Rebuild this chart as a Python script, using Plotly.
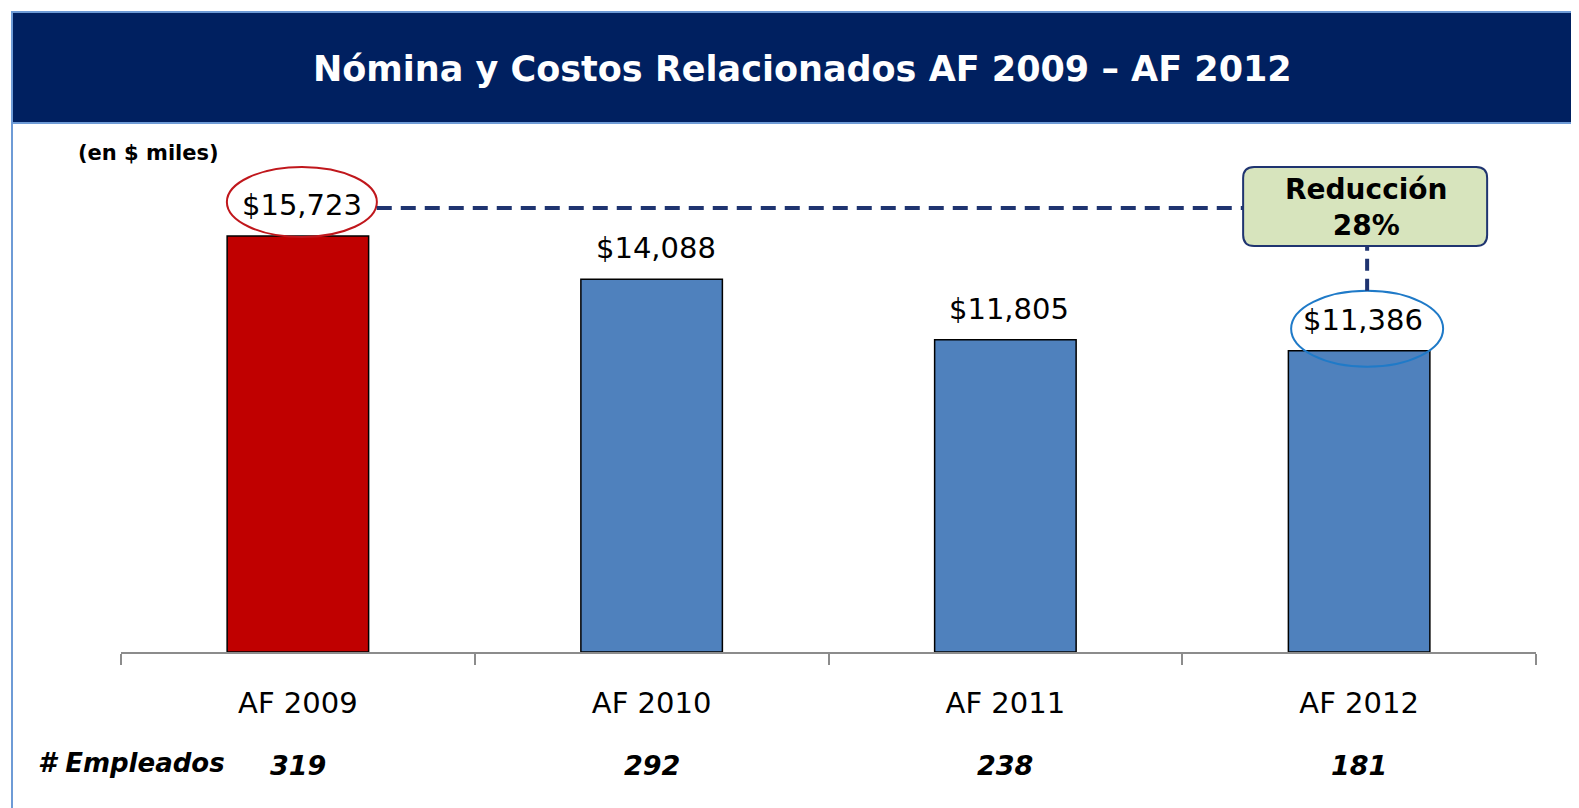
import plotly.graph_objects as go

# ---------------- data ----------------
categories = ["AF 2009", "AF 2010", "AF 2011", "AF 2012"]
costs = [15723, 14088, 11805, 11386]          # en $ miles
employees = [319, 292, 238, 181]
bar_colors = ["#C00000", "#4F81BD", "#4F81BD", "#4F81BD"]
title_text = "Nómina y Costos Relacionados AF 2009 – AF 2012"
units_text = "(en $ miles)"
emp_label = "# Empleados"

# ---------------- layout geometry ----------------
OFF = 8                      # page body margin
W, H = 1579 - OFF, 808 - OFF
ML, MR, MT, MB = 113, 43, 122, 156
PW = W - ML - MR
PH = H - MT - MB
YMAX = 19730
FONT = "DejaVu Sans"
NAVY = "#002060"
DASH_NAVY = "#1F3470"


def px(xp):
    """page x pixel -> paper x"""
    return (xp - OFF - ML) / PW


def py(yp):
    """page y pixel -> paper y"""
    return (H - MB - (yp - OFF)) / PH


fig = go.Figure()
fig.add_trace(go.Bar(
    x=categories, y=costs, width=0.4,
    marker=dict(color=bar_colors, line=dict(color="black", width=1.5)),
    hoverinfo="skip",
))

shapes = []
annotations = []

# frame + title band
shapes.append(dict(type="rect", xref="paper", yref="paper",
                   x0=px(12), x1=px(1640), y0=py(123), y1=py(12),
                   fillcolor=NAVY, line=dict(color="#6E9BD6", width=2), layer="below"))
shapes.append(dict(type="line", xref="paper", yref="paper",
                   x0=px(12), x1=px(12), y0=py(12), y1=py(840),
                   line=dict(color="#6E9BD6", width=2)))

# data labels
for c, v in zip(categories, costs):
    annotations.append(dict(x=c, y=v, xref="x", yref="y", text=f"${v:,}",
                            showarrow=False, yanchor="middle", xanchor="center",
                            yshift=31, xshift=4,
                            font=dict(family=FONT, size=29, color="black")))

# ellipses around first and last labels
shapes.append(dict(type="circle", xref="x", yref="y", xsizemode="pixel", ysizemode="pixel",
                   xanchor=categories[0], yanchor=costs[0],
                   x0=-71, x1=79, y0=-1, y1=69,
                   line=dict(color="#C0171C", width=2)))
shapes.append(dict(type="circle", xref="x", yref="y", xsizemode="pixel", ysizemode="pixel",
                   xanchor=categories[3], yanchor=costs[3],
                   x0=-68, x1=84, y0=-16, y1=60,
                   line=dict(color="#1F7AC8", width=2)))

# dashed connectors
shapes.append(dict(type="line", xref="x", yref="y", ysizemode="pixel", yanchor=costs[0],
                   x0=0.223, x1=2.672, y0=28, y1=28,
                   line=dict(color=DASH_NAVY, width=4, dash="15px,9px")))
shapes.append(dict(type="line", xref="x", yref="y", xsizemode="pixel", ysizemode="pixel",
                   xanchor=categories[3], yanchor=costs[3],
                   x0=8, x1=8, y0=60, y1=104,
                   line=dict(color=DASH_NAVY, width=4, dash="12px,8px")))

# rounded "Reducción" box
bx0, bx1, by0, by1, r = -116, 128, -10, 69, 11
path = (f"M {bx0+r},{by0} L {bx1-r},{by0} Q {bx1},{by0} {bx1},{by0+r} "
        f"L {bx1},{by1-r} Q {bx1},{by1} {bx1-r},{by1} L {bx0+r},{by1} "
        f"Q {bx0},{by1} {bx0},{by1-r} L {bx0},{by0+r} Q {bx0},{by0} {bx0+r},{by0} Z")
shapes.append(dict(type="path", xref="x", yref="y", xsizemode="pixel", ysizemode="pixel",
                   xanchor=categories[3], yanchor=costs[0], path=path,
                   fillcolor="#D7E4BD", line=dict(color=DASH_NAVY, width=2)))
reduction = round((1 - costs[-1] / costs[0]) * 100)
annotations.append(dict(x=categories[3], y=costs[0], xref="x", yref="y",
                        text=f"<b>Reducción<br>{reduction}%</b>", showarrow=False,
                        xshift=7, yshift=29, yanchor="middle", align="center",
                        font=dict(family=FONT, size=28, color="black")))

# title
annotations.append(dict(x=px(802), y=py(69), xref="paper", yref="paper",
                        text=f"<b>{title_text}</b>", showarrow=False,
                        xanchor="center", yanchor="middle",
                        font=dict(family=FONT, size=35, color="white")))
# units
annotations.append(dict(x=px(148), y=py(153), xref="paper", yref="paper",
                        text=f"<b>{units_text}</b>", showarrow=False,
                        xanchor="center", yanchor="middle",
                        font=dict(family=FONT, size=21, color="black")))
# employees row
annotations.append(dict(x=px(131), y=py(763), xref="paper", yref="paper",
                        text=f"<b><i>{emp_label}</i></b>", showarrow=False,
                        xanchor="center", yanchor="middle",
                        font=dict(family=FONT, size=26, color="black")))
for c, e in zip(categories, employees):
    annotations.append(dict(x=c, y=py(765), xref="x", yref="paper",
                            text=f"<b><i>{e}</i></b>", showarrow=False,
                            xanchor="center", yanchor="middle",
                            font=dict(family=FONT, size=27, color="black")))

fig.update_layout(
    width=W, height=H,
    margin=dict(l=ML, r=MR, t=MT, b=MB, pad=0),
    paper_bgcolor="white", plot_bgcolor="white",
    showlegend=False,
    shapes=shapes, annotations=annotations,
    xaxis=dict(type="category", range=[-0.5, 3.5], showline=True, linecolor="#8C8C8C",
               linewidth=2, ticks="outside", tickson="boundaries", ticklen=11,
               tickcolor="#8C8C8C", tickwidth=2, showgrid=False, zeroline=False,
               ticklabelstandoff=24,
               tickfont=dict(family=FONT, size=29, color="black")),
    yaxis=dict(range=[0, YMAX], visible=False, showgrid=False, zeroline=False),
)

fig.write_html("out.html")
